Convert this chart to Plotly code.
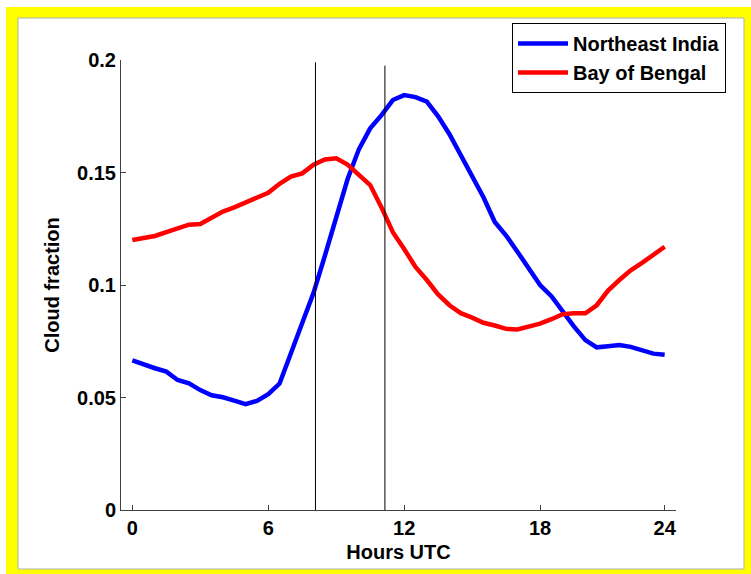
import plotly.graph_objects as go

# x positions are sample indices (half-hourly samples 1..48), labelled in hours UTC
sample_index = list(range(1, 49))
tick_positions = [1, 13, 25, 37, 48]
tick_labels = ["0", "6", "12", "18", "24"]
y_ticks = [0, 0.05, 0.1, 0.15, 0.2]
y_tick_labels = ["0", "0.05", "0.1", "0.15", "0.2"]

northeast_india = [
    0.0665, 0.0645, 0.0630, 0.0615, 0.0578, 0.0563, 0.0533, 0.0510, 0.0501, 0.0486,
    0.0470, 0.0485, 0.0515, 0.0562, 0.0695, 0.0833, 0.0965, 0.1130, 0.1308, 0.1470,
    0.1603, 0.1696, 0.1755, 0.1822, 0.1844, 0.1835, 0.1815, 0.1750, 0.1670, 0.1575,
    0.1478, 0.1390, 0.1280, 0.1220, 0.1148, 0.1073, 0.1000, 0.0950, 0.0882, 0.0815,
    0.0755, 0.0723, 0.0728, 0.0733, 0.0725, 0.0710, 0.0695, 0.0690,
]
bay_of_bengal = [
    0.1200, 0.1207, 0.1218, 0.1235, 0.1252, 0.1268, 0.1271, 0.1300, 0.1326, 0.1345,
    0.1368, 0.1390, 0.1410, 0.1450, 0.1482, 0.1496, 0.1535, 0.1558, 0.1563, 0.1535,
    0.1490, 0.1444, 0.1345, 0.1235, 0.1160, 0.1080, 0.1022, 0.0958, 0.0910, 0.0875,
    0.0855, 0.0832, 0.0820, 0.0805, 0.0802, 0.0815, 0.0828, 0.0848, 0.0870, 0.0874,
    0.0874, 0.0910, 0.0975, 0.1022, 0.1065, 0.1098, 0.1135, 0.1170,
]
marker_lines = [17.17, 23.3]
marker_tops = [0.199, 0.1975]

W, H = 751, 574
ML, MR, MT, MB = 121, 75, 60, 64
PW, PH = W - ML - MR, H - MT - MB


def px_x(px):
    return (px - ML) / PW


def px_y(py):
    return (H - MB - py) / PH


FONT = "Liberation Sans, Arial, sans-serif"

fig = go.Figure()
fig.add_trace(go.Scatter(x=sample_index, y=northeast_india, mode="lines",
                         name="Northeast India", line=dict(color="#0000ff", width=4.5)))
fig.add_trace(go.Scatter(x=sample_index, y=bay_of_bengal, mode="lines",
                         name="Bay of Bengal", line=dict(color="#ff0000", width=4.5)))

shapes = [
    dict(type="rect", xref="paper", yref="paper", x0=px_x(6), x1=px_x(760),
         y0=px_y(590), y1=px_y(7), fillcolor="#ffff00", line=dict(width=0), layer="below"),
    dict(type="rect", xref="paper", yref="paper", x0=px_x(18), x1=px_x(744),
         y0=px_y(569), y1=px_y(18), fillcolor="#ffffff",
         line=dict(color="#b0b0b0", width=1), layer="below"),
]
for xv, top in zip(marker_lines, marker_tops):
    shapes.append(dict(type="line", xref="x", yref="y", x0=xv, x1=xv, y0=0, y1=top,
                       line=dict(color="#000000", width=1)))

fig.update_layout(
    width=W, height=H,
    margin=dict(l=ML, r=MR, t=MT, b=MB),
    paper_bgcolor="#ffffff",
    plot_bgcolor="rgba(0,0,0,0)",
    font=dict(family=FONT, size=20, color="#000000", weight="bold"),
    shapes=shapes,
    showlegend=True,
    legend=dict(x=px_x(512), y=px_y(23), xanchor="left", yanchor="top",
                bgcolor="#ffffff", bordercolor="#000000", borderwidth=1,
                font=dict(family=FONT, size=20, color="#000000", weight="bold"),
                tracegroupgap=0, itemwidth=50),
    xaxis=dict(range=[0, 49], tickmode="array", tickvals=tick_positions, ticktext=tick_labels,
               ticks="inside", ticklen=5, tickcolor="#404040", showline=True,
               linecolor="#404040", linewidth=1, showgrid=False, zeroline=False,
               tickfont=dict(size=20, weight="bold"),
               title=dict(text="Hours UTC", font=dict(size=20, weight="bold"), standoff=6)),
    yaxis=dict(range=[0, 0.2], tickmode="array", tickvals=y_ticks, ticktext=y_tick_labels,
               ticks="inside", ticklen=5, tickcolor="#404040", showline=True,
               linecolor="#404040", linewidth=1, showgrid=False, zeroline=False,
               tickfont=dict(size=20, weight="bold"),
               title=dict(text="Cloud fraction", font=dict(size=20, weight="bold"), standoff=12)),
)

fig.write_html("out.html", config={"displayModeBar": False},
               post_script="document.body.style.margin='0';")
